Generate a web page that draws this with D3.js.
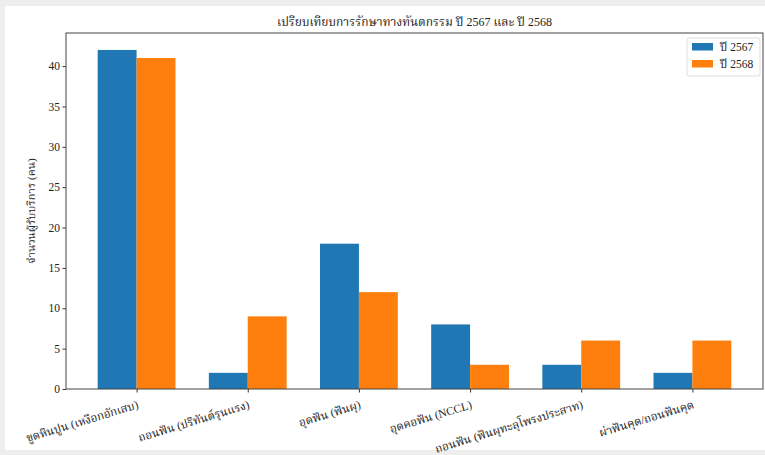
<!DOCTYPE html>
<html>
<head>
<meta charset="utf-8">
<script src="https://cdn.jsdelivr.net/npm/d3@7"></script>
<style>
  body { margin: 0; background: #eeeeee; }
  svg { display: block; }
  text { font-family: "Liberation Serif", "Noto Serif Thai", "Noto Sans Thai", serif; fill: #222; }
</style>
</head>
<body>
<div id="chart"></div>
<script>
const categories = [
    "ขูดหินปูน (เหงือกอักเสบ)",
    "ถอนฟัน (ปริทันต์รุนแรง)",
    "อุดฟัน (ฟันผุ)",
    "อุดคอฟัน (NCCL)",
    "ถอนฟัน (ฟันผุทะลุโพรงประสาท)",
    "ผ่าฟันคุด/ถอนฟันคุด"
];
const values2567 = [42, 2, 18, 8, 3, 2];
const values2568 = [41, 9, 12, 3, 6, 6];
const seriesNames = ["ปี 2567", "ปี 2568"];
const yTicks = [0, 5, 10, 15, 20, 25, 30, 35, 40];

const colors = ["#1f77b4", "#ff7f0e"];
const margin = { top: 33, right: 2, bottom: 66, left: 66 },
      width = 765 - margin.left - margin.right,
      height = 455 - margin.top - margin.bottom;

const root = d3.select("#chart")
    .append("svg")
    .attr("width", 765)
    .attr("height", 455);

// white figure area on the grey page
root.append("rect")
    .attr("x", 5).attr("y", 6)
    .attr("width", 760).attr("height", 444)
    .attr("fill", "#ffffff");

root.append("text")
    .attr("x", margin.left + width / 2)
    .attr("y", 26)
    .attr("text-anchor", "middle")
    .attr("font-size", "12px")
    .text("เปรียบเทียบการรักษาทางทันตกรรม ปี 2567 และ ปี 2568");

const svg = root.append("g")
    .attr("transform", `translate(${margin.left},${margin.top})`);

const barW = 0.35;
const x = d3.scaleLinear()
    .domain([-barW - 0.285, categories.length - 1 + barW + 0.285])
    .range([0, width]);

const y = d3.scaleLinear()
    .domain([0, 42 * 1.05])
    .range([height, 0]);

const series = [values2567, values2568];
series.forEach((vals, s) => {
    svg.selectAll(".bar" + s)
        .data(vals)
        .join("rect")
        .attr("class", "bar" + s)
        .attr("x", (d, i) => x(i + (s === 0 ? -barW : 0)))
        .attr("y", d => y(d))
        .attr("width", x(barW) - x(0))
        .attr("height", d => height - y(d))
        .attr("fill", colors[s]);
});

const xAxis = svg.append("g")
    .attr("transform", `translate(0, ${height})`)
    .call(d3.axisBottom(x)
        .tickValues(d3.range(categories.length))
        .tickFormat(i => categories[i])
        .tickSize(3.5)
        .tickSizeOuter(0));
xAxis.select(".domain").remove();
xAxis.selectAll("line").attr("stroke", "#333");
xAxis.selectAll("text")
    .attr("font-size", "11.5px")
    .attr("text-anchor", "end")
    .attr("dy", 0)
    .attr("y", 0)
    .attr("transform", "translate(2, 19) rotate(-17)");

const yAxis = svg.append("g")
    .call(d3.axisLeft(y).tickValues(yTicks).tickSize(3.5).tickSizeOuter(0));
yAxis.select(".domain").remove();
yAxis.selectAll("line").attr("stroke", "#333");
yAxis.selectAll("text").attr("font-size", "11.5px").attr("x", -6);

svg.append("text")
    .attr("transform", "rotate(-90)")
    .attr("x", -height / 2)
    .attr("y", -31)
    .attr("text-anchor", "middle")
    .attr("font-size", "11px")
    .text("จำนวนผู้รับบริการ (คน)");

// frame
svg.append("rect")
    .attr("width", width)
    .attr("height", height)
    .attr("fill", "none")
    .attr("stroke", "#444")
    .attr("stroke-width", 1);

// legend
const legend = svg.append("g")
    .attr("transform", `translate(${width - 76}, 5)`);
legend.append("rect")
    .attr("width", 73).attr("height", 38)
    .attr("rx", 2)
    .attr("fill", "#fff")
    .attr("stroke", "#ddd");
seriesNames.forEach((name, i) => {
    legend.append("rect")
        .attr("x", 5).attr("y", 5 + i * 17)
        .attr("width", 21).attr("height", 7.5)
        .attr("fill", colors[i]);
    legend.append("text")
        .attr("x", 33).attr("y", 12.5 + i * 17)
        .attr("font-size", "11.5px")
        .text(name);
});
</script>
</body>
</html>
